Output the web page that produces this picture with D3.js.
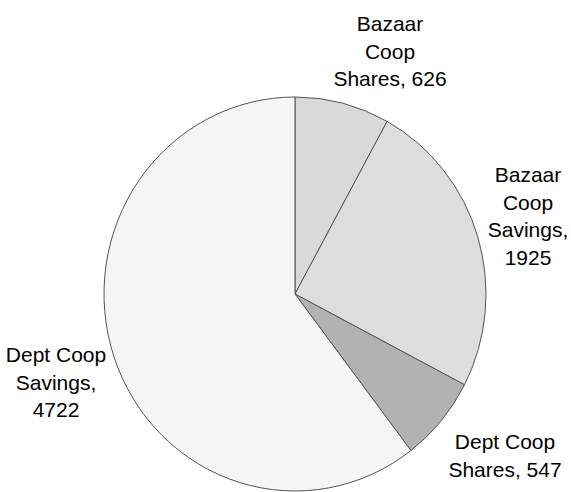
<!DOCTYPE html>
<html>
<head>
<meta charset="utf-8">
<script src="https://cdn.jsdelivr.net/npm/d3@7"></script>
<style>
  body { margin: 0; background: #fff; }
  text { font-family: "Liberation Sans", Arial, sans-serif; font-size: 21px; fill: #000; }
</style>
</head>
<body>
<svg id="drawing_region"></svg>
<script>
// slice data, clockwise from 12 o'clock
const categories = ['Bazaar Coop Shares', 'Bazaar Coop Savings', 'Dept Coop Shares', 'Dept Coop Savings'];
const values = [626, 1925, 547, 4722];
const labelLines = [
    ['Bazaar', 'Coop', 'Shares, 626'],
    ['Bazaar', 'Coop', 'Savings,', '1925'],
    ['Dept Coop', 'Shares, 547'],
    ['Dept Coop', 'Savings,', '4722']
];
const colors = ['#d9d9d9', '#dddddd', '#b2b2b2', '#f5f5f5'];

// label anchors (center x, first baseline y)
const labelPos = [[390, 31], [528, 182], [505, 449], [56, 362]];

const config = {
    width: 571,
    height: 492,
    cx: 295,
    cy: 294,
    rx: 191,
    ry: 197
};

const svg = d3.select('#drawing_region')
    .attr('width', config.width)
    .attr('height', config.height);

const data = categories.map((c, i) => ({ name: c, value: values[i] }));

const pie = d3.pie()
    .value(d => d.value)
    .sort(null);

const arc = d3.arc()
    .innerRadius(0)
    .outerRadius(config.rx);

const chart = svg.append('g')
    .attr('transform', `translate(${config.cx}, ${config.cy}) scale(1, ${config.ry / config.rx})`);

chart.selectAll('path')
    .data(pie(data))
    .enter()
    .append('path')
    .attr('d', arc)
    .attr('fill', (d, i) => colors[i])
    .attr('stroke', '#555')
    .attr('stroke-width', 1)
    .attr('vector-effect', 'non-scaling-stroke');

const labels = svg.selectAll('text.label')
    .data(labelLines)
    .enter()
    .append('text')
    .attr('class', 'label')
    .attr('text-anchor', 'middle');

labels.each(function(lines, i) {
    const t = d3.select(this);
    lines.forEach((line, j) => {
        t.append('tspan')
            .attr('x', labelPos[i][0])
            .attr('y', labelPos[i][1] + j * 27.5)
            .text(line);
    });
});
</script>
</body>
</html>
